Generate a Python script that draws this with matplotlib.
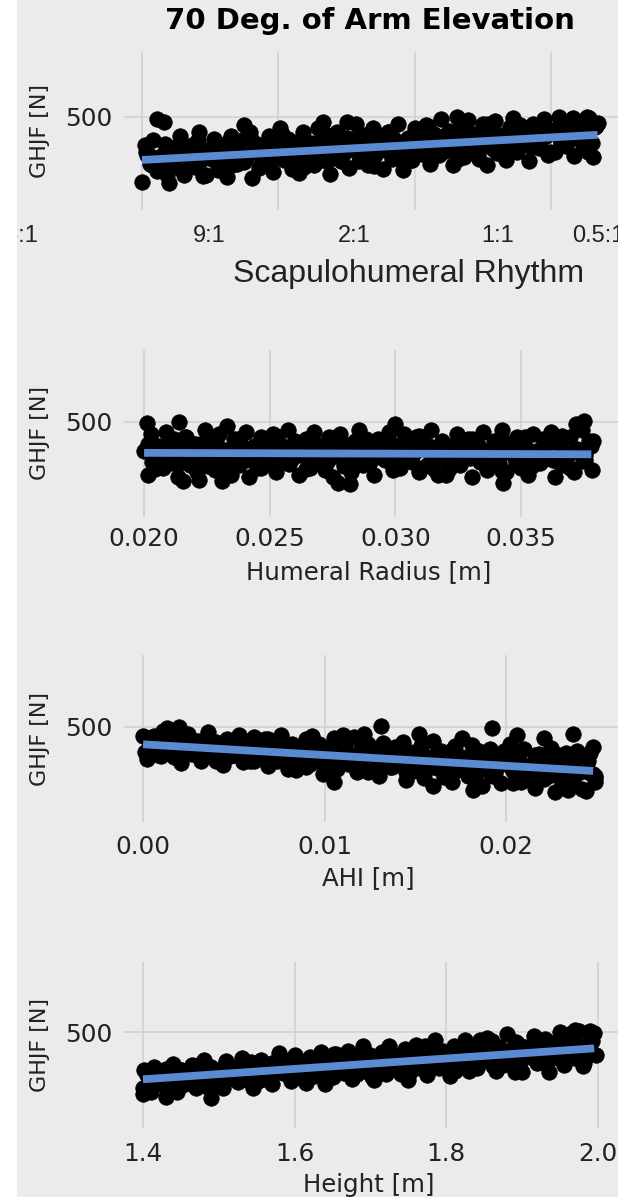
import matplotlib.pyplot as plt
from matplotlib.patches import Rectangle

# ---- data (GHJF in N) ----
# Scapulohumeral rhythm (plotted on an index axis, grid at 1..4)
sh_x = [
    1.00, 1.03, 1.06, 1.08, 1.11, 1.14, 1.17, 1.20, 1.22, 1.25,
    1.28, 1.31, 1.34, 1.37, 1.39, 1.42, 1.45, 1.48, 1.51, 1.53,
    1.56, 1.59, 1.62, 1.65, 1.67, 1.70, 1.73, 1.76, 1.79, 1.81,
    1.84, 1.87, 1.90, 1.93, 1.96, 1.98, 2.01, 2.04, 2.07, 2.10,
    2.12, 2.15, 2.18, 2.21, 2.24, 2.26, 2.29, 2.32, 2.35, 2.38,
    2.41, 2.43, 2.46, 2.49, 2.52, 2.55, 2.57, 2.60, 2.63, 2.66,
    2.69, 2.71, 2.74, 2.77, 2.80, 2.83, 2.85, 2.88, 2.91, 2.94,
    2.97, 3.00, 3.02, 3.05, 3.08, 3.11, 3.14, 3.16, 3.19, 3.22,
    3.25, 3.28, 3.30, 3.33, 3.36, 3.39, 3.42, 3.44, 3.47, 3.50,
    3.53, 3.56, 3.59, 3.61, 3.64, 3.67, 3.70, 3.72, 3.75, 3.78,
    3.81, 3.84, 3.87, 3.89, 3.92, 3.95, 3.98, 4.00, 4.03, 4.06,
    4.09, 4.12, 4.15, 4.17, 4.20, 4.23, 4.26, 4.28, 4.31, 4.34,
    1.05, 1.16, 1.27, 1.39, 1.50, 1.61, 1.72, 1.83, 1.95, 2.06,
    2.17, 2.28, 2.39, 2.51, 2.62, 2.73, 2.84, 2.95, 3.07, 3.18,
    3.29, 3.40, 3.51, 3.63, 3.74, 3.85, 3.96, 4.07, 4.19, 4.30,
    1.11, 1.16, 1.75, 2.33, 2.50, 3.31, 4.28,
    1.02, 1.07, 1.13, 1.18, 1.24, 1.30, 1.35, 1.41, 1.47, 1.52,
    1.58, 1.63, 1.69, 1.75, 1.80, 1.86, 1.91, 1.97, 2.03, 2.08,
    2.14, 2.19, 2.25, 2.31, 2.36, 2.42, 2.48, 2.53, 2.59, 2.65,
    2.70, 2.76, 2.81, 2.87, 2.93, 2.98, 3.04, 3.10, 3.15, 3.21,
    3.26, 3.32, 3.38, 3.43, 3.49, 3.54, 3.60, 3.66, 3.71, 3.77,
    3.83, 3.88, 3.94, 3.99, 4.05, 4.11, 4.16, 4.22, 4.27, 4.33,
    1.04, 1.10, 1.15, 1.21, 1.26, 1.32, 1.38, 1.43, 1.49, 1.55,
    1.60, 1.66, 1.71, 1.77, 1.83, 1.88, 1.94, 2.00, 2.05, 2.11,
    2.16, 2.22, 2.28, 2.33, 2.39, 2.45, 2.50, 2.56, 2.61, 2.67,
    2.73, 2.78, 2.84, 2.89, 2.95, 3.01, 3.06, 3.12, 3.18, 3.23,
    3.29, 3.34, 3.40, 3.46, 3.51, 3.57, 3.62, 3.68, 3.74, 3.79,
    3.85, 3.91, 3.96, 4.02, 4.07, 4.13, 4.19, 4.24, 4.30, 4.32]
sh_y = [
    220, 348, 296, 402, 266, 330, 383, 216, 364, 291,
    419, 251, 326, 380, 286, 434, 246, 351, 321, 406,
    270, 366, 240, 420, 347, 296, 402, 319, 435, 236,
    384, 290, 344, 419, 262, 368, 453, 317, 403, 276,
    361, 257, 437, 344, 387, 293, 452, 316, 422, 255,
    381, 435, 309, 363, 280, 407, 471, 346, 421, 295,
    453, 338, 381, 277, 436, 321, 407, 471, 272, 378,
    316, 453, 401, 339, 466, 299, 426, 375, 491, 355,
    441, 294, 399, 453, 328, 487, 372, 426, 321, 470,
    292, 419, 482, 357, 400, 317, 455, 496, 351, 447,
    396, 312, 471, 420, 377, 490, 337, 444, 350, 498,
    415, 395, 491, 334, 461, 367, 498, 443, 327, 476,
    338, 288, 366, 317, 363, 293, 338, 379, 325, 360,
    316, 382, 355, 406, 341, 387, 332, 410, 387, 369,
    426, 361, 407, 389, 424, 370, 453, 393, 418, 454,
    491, 478, 466, 478, 478, 500, 497,
    379, 293, 327, 250, 370, 285, 351, 399, 251, 332,
    287, 391, 353, 307, 404, 280, 377, 338, 427, 326,
    392, 283, 363, 404, 312, 432, 347, 388, 311, 423,
    291, 388, 437, 343, 377, 316, 421, 462, 344, 418,
    380, 319, 439, 401, 371, 468, 344, 425, 355, 467,
    406, 392, 465, 348, 445, 375, 496, 435, 349, 462,
    335, 294, 320, 355, 286, 334, 374, 315, 355, 300,
    339, 294, 376, 335, 356, 316, 387, 328, 377, 304,
    362, 387, 332, 358, 322, 381, 410, 356, 391, 336,
    409, 359, 379, 334, 406, 356, 396, 425, 338, 387,
    361, 424, 402, 375, 434, 360, 419, 397, 450, 391,
    431, 367, 416, 441, 386, 458, 409, 434, 389, 456]
sh_fit_x = [1.00, 4.34]
sh_fit_y = [315, 423]
sh_ticks = ["15:1", "9:1", "2:1", "1:1", "0.5:1"]

# Humeral radius [m]
hr_x = [
    0.02000, 0.02016, 0.02029, 0.02046, 0.02059, 0.02076, 0.02089, 0.02106, 0.02119, 0.02136,
    0.02150, 0.02164, 0.02181, 0.02194, 0.02211, 0.02224, 0.02241, 0.02254, 0.02271, 0.02284,
    0.02300, 0.02316, 0.02329, 0.02346, 0.02359, 0.02376, 0.02389, 0.02406, 0.02419, 0.02436,
    0.02450, 0.02464, 0.02481, 0.02494, 0.02511, 0.02524, 0.02541, 0.02554, 0.02571, 0.02584,
    0.02600, 0.02616, 0.02629, 0.02646, 0.02659, 0.02676, 0.02689, 0.02706, 0.02719, 0.02736,
    0.02750, 0.02764, 0.02781, 0.02794, 0.02811, 0.02824, 0.02841, 0.02854, 0.02871, 0.02884,
    0.02900, 0.02916, 0.02929, 0.02946, 0.02959, 0.02976, 0.02989, 0.03006, 0.03019, 0.03036,
    0.03050, 0.03064, 0.03081, 0.03094, 0.03111, 0.03124, 0.03141, 0.03154, 0.03171, 0.03184,
    0.03200, 0.03216, 0.03229, 0.03246, 0.03259, 0.03276, 0.03289, 0.03306, 0.03319, 0.03336,
    0.03350, 0.03364, 0.03381, 0.03394, 0.03411, 0.03424, 0.03441, 0.03454, 0.03471, 0.03484,
    0.03500, 0.03516, 0.03529, 0.03546, 0.03559, 0.03576, 0.03589, 0.03606, 0.03619, 0.03636,
    0.03650, 0.03664, 0.03681, 0.03694, 0.03711, 0.03724, 0.03741, 0.03754, 0.03771, 0.03784,
    0.02030, 0.02088, 0.02146, 0.02204, 0.02262, 0.02320, 0.02378, 0.02436, 0.02494, 0.02552,
    0.02610, 0.02668, 0.02726, 0.02784, 0.02842, 0.02900, 0.02958, 0.03016, 0.03074, 0.03132,
    0.03190, 0.03248, 0.03306, 0.03364, 0.03422, 0.03480, 0.03538, 0.03596, 0.03654, 0.03712,
    0.02010, 0.02140, 0.02330, 0.03000, 0.03720, 0.03750,
    0.02155, 0.02220, 0.02310, 0.02770, 0.02820, 0.03430,
    0.02015, 0.02045, 0.02075, 0.02105, 0.02135, 0.02165, 0.02195, 0.02225, 0.02255, 0.02285,
    0.02315, 0.02345, 0.02375, 0.02405, 0.02435, 0.02465, 0.02495, 0.02525, 0.02555, 0.02585,
    0.02615, 0.02645, 0.02675, 0.02705, 0.02735, 0.02765, 0.02795, 0.02825, 0.02855, 0.02885,
    0.02915, 0.02945, 0.02975, 0.03005, 0.03035, 0.03065, 0.03095, 0.03125, 0.03155, 0.03185,
    0.03215, 0.03245, 0.03275, 0.03305, 0.03335, 0.03365, 0.03395, 0.03425, 0.03455, 0.03485,
    0.03515, 0.03545, 0.03575, 0.03605, 0.03635, 0.03665, 0.03695, 0.03725, 0.03755, 0.03785,
    0.02007, 0.02037, 0.02067, 0.02097, 0.02127, 0.02157, 0.02187, 0.02217, 0.02247, 0.02277,
    0.02307, 0.02337, 0.02367, 0.02397, 0.02427, 0.02457, 0.02487, 0.02517, 0.02547, 0.02577,
    0.02607, 0.02637, 0.02667, 0.02697, 0.02727, 0.02757, 0.02787, 0.02817, 0.02847, 0.02877,
    0.02907, 0.02937, 0.02967, 0.02997, 0.03027, 0.03057, 0.03087, 0.03117, 0.03147, 0.03177,
    0.03207, 0.03237, 0.03267, 0.03297, 0.03327, 0.03357, 0.03387, 0.03417, 0.03447, 0.03477,
    0.03507, 0.03537, 0.03567, 0.03597, 0.03627, 0.03657, 0.03687, 0.03717, 0.03747, 0.03777]
hr_y = [
    378, 278, 448, 358, 398, 308, 458, 328, 428, 268,
    388, 438, 318, 368, 288, 408, 468, 348, 418, 298,
    448, 338, 378, 278, 428, 318, 398, 458, 268, 368,
    308, 438, 388, 328, 448, 288, 408, 358, 468, 338,
    418, 278, 378, 428, 308, 458, 348, 398, 298, 438,
    268, 388, 448, 328, 368, 288, 418, 468, 318, 408,
    358, 278, 428, 378, 338, 458, 298, 398, 308, 448,
    368, 348, 438, 288, 408, 318, 468, 388, 278, 418,
    278, 398, 348, 448, 318, 378, 428, 268, 408, 338,
    458, 298, 368, 418, 328, 468, 288, 388, 358, 438,
    308, 398, 278, 448, 378, 328, 428, 348, 458, 268,
    408, 318, 368, 438, 288, 388, 468, 338, 418, 298,
    333, 393, 363, 408, 343, 383, 328, 398, 373, 353,
    403, 338, 378, 358, 388, 333, 408, 348, 368, 398,
    388, 338, 408, 358, 398, 328, 368, 403, 348, 378,
    495, 500, 485, 490, 492, 505,
    251, 255, 250, 245, 240, 245,
    406, 300, 376, 413, 323, 436, 353, 391, 315, 421,
    293, 383, 428, 338, 368, 308, 406, 443, 330, 398,
    360, 300, 413, 376, 345, 436, 315, 391, 323, 428,
    368, 353, 421, 308, 398, 330, 443, 383, 300, 406,
    300, 391, 353, 428, 330, 376, 413, 293, 398, 345,
    436, 315, 368, 406, 338, 443, 308, 383, 360, 421,
    386, 345, 368, 400, 332, 377, 413, 354, 391, 336,
    373, 327, 404, 363, 382, 341, 409, 350, 395, 323,
    377, 400, 345, 368, 332, 386, 413, 359, 391, 336,
    404, 354, 373, 327, 395, 345, 382, 409, 323, 368,
    341, 400, 377, 350, 404, 332, 386, 363, 413, 354,
    391, 327, 373, 395, 341, 409, 359, 382, 336, 400]
hr_fit_x = [0.0200, 0.0378]
hr_fit_y = [370, 364]

# Acromiohumeral interval [m]
ahi_x = [
    0.0000, 0.0002, 0.0004, 0.0006, 0.0008, 0.0011, 0.0013, 0.0015, 0.0017, 0.0019,
    0.0021, 0.0023, 0.0025, 0.0027, 0.0029, 0.0032, 0.0034, 0.0036, 0.0038, 0.0040,
    0.0042, 0.0044, 0.0046, 0.0048, 0.0050, 0.0053, 0.0055, 0.0057, 0.0059, 0.0061,
    0.0063, 0.0065, 0.0067, 0.0069, 0.0071, 0.0074, 0.0076, 0.0078, 0.0080, 0.0082,
    0.0084, 0.0086, 0.0088, 0.0090, 0.0092, 0.0095, 0.0097, 0.0099, 0.0101, 0.0103,
    0.0105, 0.0107, 0.0109, 0.0111, 0.0113, 0.0116, 0.0118, 0.0120, 0.0122, 0.0124,
    0.0126, 0.0128, 0.0130, 0.0132, 0.0134, 0.0137, 0.0139, 0.0141, 0.0143, 0.0145,
    0.0147, 0.0149, 0.0151, 0.0153, 0.0155, 0.0158, 0.0160, 0.0162, 0.0164, 0.0166,
    0.0168, 0.0170, 0.0172, 0.0174, 0.0176, 0.0179, 0.0181, 0.0183, 0.0185, 0.0187,
    0.0189, 0.0191, 0.0193, 0.0195, 0.0197, 0.0200, 0.0202, 0.0204, 0.0206, 0.0208,
    0.0210, 0.0212, 0.0214, 0.0216, 0.0218, 0.0221, 0.0223, 0.0225, 0.0227, 0.0229,
    0.0231, 0.0233, 0.0235, 0.0237, 0.0239, 0.0242, 0.0244, 0.0246, 0.0248, 0.0249,
    0.0004, 0.0012, 0.0021, 0.0029, 0.0038, 0.0046, 0.0054, 0.0063, 0.0071, 0.0080,
    0.0088, 0.0096, 0.0105, 0.0113, 0.0122, 0.0130, 0.0138, 0.0147, 0.0155, 0.0164,
    0.0172, 0.0180, 0.0189, 0.0197, 0.0206, 0.0214, 0.0222, 0.0231, 0.0239, 0.0248,
    0.0093, 0.0110, 0.0122, 0.0131, 0.0152, 0.0176, 0.0192, 0.0206, 0.0237, 0.0221,
    0.0244, 0.0234, 0.0182, 0.0160, 0.0105, 0.0013, 0.0020,
    0.0002, 0.0006, 0.0010, 0.0015, 0.0019, 0.0023, 0.0027, 0.0031, 0.0036, 0.0040,
    0.0044, 0.0048, 0.0052, 0.0057, 0.0061, 0.0065, 0.0069, 0.0073, 0.0078, 0.0082,
    0.0086, 0.0090, 0.0094, 0.0099, 0.0103, 0.0107, 0.0111, 0.0115, 0.0120, 0.0124,
    0.0128, 0.0132, 0.0136, 0.0141, 0.0145, 0.0149, 0.0153, 0.0157, 0.0162, 0.0166,
    0.0170, 0.0174, 0.0178, 0.0183, 0.0187, 0.0191, 0.0195, 0.0199, 0.0204, 0.0208,
    0.0212, 0.0216, 0.0220, 0.0225, 0.0229, 0.0233, 0.0237, 0.0241, 0.0246, 0.0249,
    0.0001, 0.0005, 0.0009, 0.0014, 0.0018, 0.0022, 0.0026, 0.0030, 0.0035, 0.0039,
    0.0043, 0.0047, 0.0051, 0.0056, 0.0060, 0.0064, 0.0068, 0.0072, 0.0077, 0.0081,
    0.0085, 0.0089, 0.0093, 0.0098, 0.0102, 0.0106, 0.0110, 0.0114, 0.0119, 0.0123,
    0.0127, 0.0131, 0.0135, 0.0140, 0.0144, 0.0148, 0.0152, 0.0156, 0.0161, 0.0165,
    0.0169, 0.0173, 0.0177, 0.0182, 0.0186, 0.0190, 0.0194, 0.0198, 0.0203, 0.0207,
    0.0211, 0.0215, 0.0219, 0.0224, 0.0228, 0.0232, 0.0236, 0.0240, 0.0245, 0.0249]
ahi_y = [
    460, 367, 432, 464, 383, 481, 408, 440, 373, 464,
    349, 431, 471, 387, 414, 358, 447, 480, 376, 437,
    401, 342, 449, 412, 382, 468, 352, 423, 357, 457,
    399, 383, 450, 336, 425, 357, 468, 407, 324, 428,
    319, 411, 371, 448, 346, 392, 430, 304, 412, 357,
    453, 322, 378, 418, 344, 456, 309, 389, 364, 428,
    320, 394, 292, 434, 374, 331, 414, 346, 438, 277,
    396, 316, 359, 419, 287, 373, 442, 328, 397, 291,
    360, 269, 421, 339, 374, 292, 426, 308, 397, 252,
    361, 406, 294, 339, 264, 374, 429, 316, 381, 268,
    409, 302, 340, 243, 386, 279, 355, 411, 228, 323,
    264, 391, 341, 280, 398, 239, 357, 306, 414, 284,
    453, 398, 426, 406, 426, 378, 435, 383, 395, 415,
    403, 360, 412, 368, 396, 336, 365, 389, 341, 361,
    321, 366, 338, 370, 314, 342, 295, 347, 323, 303,
    460, 465, 470, 506, 470, 455, 495, 465, 470, 455,
    230, 235, 235, 250, 270, 495, 500,
    395, 439, 376, 461, 423, 397, 446, 403, 457, 358,
    429, 378, 403, 440, 355, 409, 451, 378, 420, 352,
    394, 332, 432, 376, 398, 343, 431, 351, 409, 311,
    382, 412, 333, 363, 310, 386, 422, 343, 386, 307,
    405, 327, 353, 282, 383, 306, 360, 399, 266, 333,
    287, 380, 342, 296, 381, 264, 349, 311, 389, 292,
    396, 431, 447, 409, 419, 393, 430, 443, 396, 421,
    405, 376, 424, 405, 390, 428, 373, 404, 372, 416,
    389, 380, 410, 355, 395, 361, 412, 382, 341, 389,
    336, 379, 358, 394, 343, 364, 381, 318, 369, 341,
    387, 320, 347, 366, 327, 382, 306, 345, 331, 362,
    305, 343, 288, 361, 328, 304, 346, 309, 356, 270]
ahi_fit_x = [0.0, 0.0248]
ahi_fit_y = [427, 315]

# Height [m]
ht_x = [
    1.400, 1.405, 1.410, 1.415, 1.420, 1.425, 1.430, 1.435, 1.440, 1.445,
    1.450, 1.455, 1.460, 1.465, 1.470, 1.475, 1.480, 1.485, 1.490, 1.495,
    1.500, 1.505, 1.510, 1.515, 1.520, 1.525, 1.530, 1.535, 1.540, 1.545,
    1.550, 1.555, 1.560, 1.565, 1.570, 1.575, 1.580, 1.585, 1.590, 1.595,
    1.600, 1.605, 1.610, 1.615, 1.620, 1.625, 1.630, 1.635, 1.640, 1.645,
    1.650, 1.655, 1.660, 1.665, 1.670, 1.675, 1.680, 1.685, 1.690, 1.695,
    1.700, 1.705, 1.710, 1.715, 1.720, 1.725, 1.730, 1.735, 1.740, 1.745,
    1.750, 1.755, 1.760, 1.765, 1.770, 1.775, 1.780, 1.785, 1.790, 1.795,
    1.800, 1.805, 1.810, 1.815, 1.820, 1.825, 1.830, 1.835, 1.840, 1.845,
    1.850, 1.855, 1.860, 1.865, 1.870, 1.875, 1.880, 1.885, 1.890, 1.895,
    1.900, 1.905, 1.910, 1.915, 1.920, 1.925, 1.930, 1.935, 1.940, 1.945,
    1.950, 1.955, 1.960, 1.965, 1.970, 1.975, 1.980, 1.985, 1.990, 1.995,
    1.41, 1.43, 1.45, 1.47, 1.49, 1.51, 1.53, 1.55, 1.57, 1.59,
    1.61, 1.63, 1.65, 1.67, 1.69, 1.71, 1.73, 1.75, 1.77, 1.79,
    1.81, 1.83, 1.85, 1.87, 1.89, 1.91, 1.93, 1.95, 1.97, 1.99,
    1.854, 1.970, 1.990, 1.400, 1.430, 1.490,
    1.402, 1.412, 1.422, 1.432, 1.442, 1.452, 1.462, 1.472, 1.482, 1.492,
    1.502, 1.512, 1.522, 1.532, 1.542, 1.552, 1.562, 1.572, 1.582, 1.592,
    1.602, 1.612, 1.622, 1.632, 1.642, 1.652, 1.662, 1.672, 1.682, 1.692,
    1.702, 1.712, 1.722, 1.732, 1.742, 1.752, 1.762, 1.772, 1.782, 1.792,
    1.802, 1.812, 1.822, 1.832, 1.842, 1.852, 1.862, 1.872, 1.882, 1.892,
    1.902, 1.912, 1.922, 1.932, 1.942, 1.952, 1.962, 1.972, 1.982, 1.992,
    1.407, 1.417, 1.427, 1.437, 1.447, 1.457, 1.467, 1.477, 1.487, 1.497,
    1.507, 1.517, 1.527, 1.537, 1.547, 1.557, 1.567, 1.577, 1.587, 1.597,
    1.607, 1.617, 1.627, 1.637, 1.647, 1.657, 1.667, 1.677, 1.687, 1.697,
    1.707, 1.717, 1.727, 1.737, 1.747, 1.757, 1.767, 1.777, 1.787, 1.797,
    1.807, 1.817, 1.827, 1.837, 1.847, 1.857, 1.867, 1.877, 1.887, 1.897,
    1.907, 1.917, 1.927, 1.937, 1.947, 1.957, 1.967, 1.977, 1.987, 1.997]
ht_y = [
    266, 322, 250, 355, 313, 284, 347, 299, 367, 252,
    340, 283, 316, 362, 267, 332, 384, 302, 355, 279,
    332, 267, 380, 321, 349, 290, 390, 306, 373, 268,
    350, 385, 304, 339, 285, 369, 411, 329, 379, 297,
    403, 327, 356, 286, 394, 316, 374, 418, 284, 356,
    313, 410, 374, 331, 421, 304, 394, 358, 440, 345,
    406, 301, 378, 417, 326, 442, 360, 399, 324, 431,
    300, 396, 444, 350, 383, 321, 425, 466, 349, 421,
    382, 318, 441, 401, 370, 468, 339, 421, 349, 465,
    401, 385, 462, 337, 439, 364, 491, 425, 333, 452,
    334, 438, 396, 484, 373, 426, 470, 333, 454, 395,
    502, 361, 424, 470, 390, 505, 358, 448, 422, 494,
    275, 310, 340, 303, 331, 301, 350, 332, 370, 325,
    360, 323, 379, 366, 355, 396, 353, 387, 375, 403,
    366, 426, 386, 405, 431, 429, 396, 452, 419, 453,
    476, 510, 505, 240, 230, 225,
    342, 292, 313, 268, 340, 291, 331, 361, 274, 323,
    295, 362, 340, 312, 374, 296, 358, 335, 393, 330,
    374, 300, 356, 385, 324, 407, 349, 378, 326, 404,
    311, 383, 419, 352, 377, 333, 411, 442, 357, 411,
    384, 337, 432, 403, 380, 457, 360, 424, 371, 460,
    412, 401, 462, 366, 447, 391, 490, 440, 371, 464,
    280, 315, 303, 333, 299, 318, 335, 292, 333, 316,
    353, 307, 331, 348, 323, 367, 315, 347, 341, 367,
    329, 360, 323, 380, 360, 346, 380, 357, 394, 335,
    384, 354, 374, 401, 350, 387, 418, 374, 405, 364,
    395, 360, 426, 394, 411, 380, 437, 391, 431, 374,
    421, 443, 397, 419, 390, 440, 466, 420, 450, 405]
ht_fit_x = [1.40, 1.995]
ht_fit_y = [303, 432]

# ---- figure ----
W, H = 618, 1197
BG = "#EBEBEB"
GRID = "#CFCFCF"
BLUE = "#5A8AD2"
TXT = "#222222"

fig = plt.figure(figsize=(W / 100, H / 100), dpi=100, facecolor=BG)


def add_panel(top, bottom, xlim, ylim, xticks, x, y, fx, fy):
    left = 124
    ax = fig.add_axes([left / W, 1 - bottom / H, (W - left) / W, (bottom - top) / H])
    ax.set_facecolor(BG)
    for s in ax.spines.values():
        s.set_visible(False)
    ax.set_xlim(xlim)
    ax.set_ylim(ylim)
    ax.set_xticks(xticks)
    ax.set_yticks([500])
    ax.grid(True, color=GRID, linewidth=1.1)
    ax.set_axisbelow(True)
    ax.tick_params(length=0, labelsize=17.8, colors=TXT)
    ax.tick_params(axis="y", pad=8.5)
    ax.tick_params(axis="x", pad=9)
    ax.scatter(x, y, s=125, c="black", edgecolors="black", linewidths=0.5, zorder=2)
    ax.plot(fx, fy, color=BLUE, linewidth=5.6, solid_capstyle="butt", zorder=3)
    fig.text(40 / W, 1 - (top + bottom) / 2 / H, "GHJF [N]", rotation=90,
             ha="center", va="center", fontsize=16, color=TXT)
    return ax


# panel 1: scapulohumeral rhythm
ax1 = add_panel(52, 210, (0.868, 4.49), (100, 779), [1, 2, 3, 4],
                sh_x, sh_y, sh_fit_x, sh_fit_y)
ax1.tick_params(axis="x", labelbottom=False)
fig.text(370 / W, 1 - 21 / H, "70 Deg. of Arm Elevation", ha="center", va="center",
         fontsize=21, fontweight="bold", color="black")
lab_font = ["Liberation Sans", "DejaVu Sans"]
tick_pos = [(38, "right"), (209, "center"), (354, "center"), (498, "center"), (572, "left")]
for (px, ha), lab in zip(tick_pos, sh_ticks):
    fig.text(px / W, 1 - 236 / H, lab, ha=ha, va="center", fontsize=17,
             family=lab_font, color=TXT)
fig.text(409 / W, 1 - 274 / H, "Scapulohumeral Rhythm", ha="center", va="center",
         fontsize=23, family=lab_font, color=TXT)

# panel 2: humeral radius
ax2 = add_panel(350, 517, (0.0192, 0.03886), (100, 803), [0.020, 0.025, 0.030, 0.035],
                hr_x, hr_y, hr_fit_x, hr_fit_y)
ax2.set_xticklabels(["0.020", "0.025", "0.030", "0.035"])
ax2.tick_params(axis="x", pad=7.5)
fig.text(369 / W, 1 - 572 / H, "Humeral Radius [m]", ha="center", va="center",
         fontsize=17.6, color=TXT)

# panel 3: AHI
ax3 = add_panel(655, 822, (-0.00105, 0.02617), (100, 803), [0.00, 0.01, 0.02],
                ahi_x, ahi_y, ahi_fit_x, ahi_fit_y)
ax3.set_xticklabels(["0.00", "0.01", "0.02"])
ax3.tick_params(axis="x", pad=9.5)
fig.text(368 / W, 1 - 878 / H, "AHI [m]", ha="center", va="center",
         fontsize=17.6, color=TXT)

# panel 4: height
ax4 = add_panel(962, 1128, (1.375, 2.0264), (100, 792), [1.4, 1.6, 1.8, 2.0],
                ht_x, ht_y, ht_fit_x, ht_fit_y)
ax4.set_xticklabels(["1.4", "1.6", "1.8", "2.0"])
ax4.tick_params(axis="x", pad=10)
fig.text(369 / W, 1 - 1185 / H, "Height [m]", ha="center", va="center",
         fontsize=17.6, color=TXT)

# white strip at the left edge of the original image
fig.patches.append(Rectangle((0, 0), 17 / W, 1, transform=fig.transFigure,
                             facecolor="white", edgecolor="none", zorder=10))

fig.savefig("out.png", dpi=100, facecolor=BG)
